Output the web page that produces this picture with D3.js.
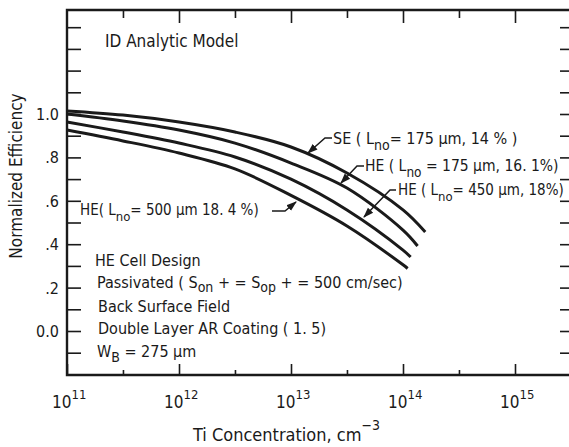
<!DOCTYPE html>
<html>
<head>
<meta charset="utf-8">
<script src="https://cdn.jsdelivr.net/npm/d3@7"></script>
<style>
  body { margin: 0; background: #fff; }
  svg { display: block; }
  text { font-family: "Liberation Sans Narrow", "DejaVu Sans Condensed", "Arial Narrow", sans-serif; fill: #1a1a1a; }
  .tick line { stroke: #1a1a1a; stroke-width: 1.6; }
</style>
</head>
<body>
<svg id="chart"></svg>
<script>
// Ti concentration (cm^-3) sampled at half decades
var concentrations = [1e11, 3.16e11, 1e12, 3.16e12, 1e13, 3.16e13, 1e14];
var endConcentration = [1.58e14, 1.35e14, 1.17e14, 1.1e14];

// normalized efficiency, one array per cell
var seL175 = [1.014, 0.995, 0.963, 0.917, 0.848, 0.728, 0.558, 0.456];
var heL175 = [1.000, 0.968, 0.926, 0.866, 0.774, 0.659, 0.465, 0.392];
var heL450 = [0.963, 0.917, 0.866, 0.802, 0.700, 0.558, 0.373, 0.341];
var heL500 = [0.926, 0.876, 0.820, 0.747, 0.625, 0.484, 0.305, 0.288];

var yLabelValues = [0, 0.2, 0.4, 0.6, 0.8, 1.0];
var yLabels = ["0.0", ".2", ".4", ".6", ".8", "1.0"];
var xDecades = [1e11, 1e12, 1e13, 1e14, 1e15];
var xExponents = ["11", "12", "13", "14", "15"];
var xHalf = [3.16e11, 3.16e12, 3.16e13, 3.16e14];
var yMinor = [-0.1, 0, 0.1, 0.2, 0.3, 0.4, 0.5, 0.6, 0.7, 0.8, 0.9, 1.0, 1.1, 1.2, 1.3, 1.4];

var width = 569, height = 447;
var frameL = 67, frameT = 10, frameB = 375, frameR = 569;

var svg = d3.select("#chart").attr("width", width).attr("height", height);

var x = d3.scaleLog().domain([1e11, 1e15]).range([67, 515]);
var y = d3.scaleLinear().domain([0, 1]).range([331, 114]);

function toPoints(vals, i) {
  var xs = concentrations.concat([endConcentration[i]]);
  return vals.map(function(v, j) { return [xs[j], v]; });
}

// ticks: left and right every 0.1, top and bottom on decades / half decades
function ticks(axis, tx, ty) {
  var g = svg.append("g").attr("transform", "translate(" + tx + "," + ty + ")").call(axis);
  g.select(".domain").remove();
  g.selectAll("text").remove();
  return g;
}
ticks(d3.axisRight(y).tickValues(yMinor).tickSize(14), frameL, 0);
ticks(d3.axisLeft(y).tickValues(yMinor).tickSize(9), frameR, 0);
ticks(d3.axisTop(x).tickValues(xDecades).tickSize(11), 0, frameB);
ticks(d3.axisTop(x).tickValues(xHalf).tickSize(5), 0, frameB);
ticks(d3.axisBottom(x).tickValues(xDecades.slice(1)).tickSize(13), 0, frameT);
ticks(d3.axisBottom(x).tickValues(xHalf).tickSize(8), 0, frameT);

// frame (right side is cut off in the scan)
svg.append("path")
  .attr("d", "M" + frameR + "," + frameT + "H" + frameL + "V" + frameB + "H" + frameR)
  .attr("fill", "none").attr("stroke", "#1a1a1a").attr("stroke-width", 2.4);

// y tick labels
svg.selectAll(".ylab").data(yLabelValues).enter().append("text")
  .attr("class", "ylab")
  .attr("x", 59).attr("y", function(d) { return y(d) + 6; })
  .attr("text-anchor", "end").style("font-size", "16px")
  .text(function(d, i) { return yLabels[i]; });

// x tick labels 10^n
var xl = svg.selectAll(".xlab").data(xDecades).enter().append("text")
  .attr("class", "xlab")
  .attr("x", function(d) { return x(d) - 15; }).attr("y", 408)
  .style("font-size", "17px");
xl.append("tspan").text("10");
xl.append("tspan").attr("dy", -9).style("font-size", "13px").text(function(d, i) { return xExponents[i]; });

// axis titles
var xt = svg.append("text").attr("x", 193).attr("y", 441).style("font-size", "18px");
xt.append("tspan").text("Ti Concentration,  cm");
xt.append("tspan").attr("dy", -11).style("font-size", "14px").text("\u22123");

svg.append("text")
  .attr("transform", "translate(22,176) rotate(-90)")
  .attr("text-anchor", "middle").style("font-size", "17px")
  .text("Normalized Efficiency");

// curves
var line = d3.line()
  .x(function(d) { return x(d[0]); })
  .y(function(d) { return y(d[1]); })
  .curve(d3.curveCatmullRom.alpha(0.5));

svg.append("g").selectAll("path")
  .data([seL175, heL175, heL450, heL500].map(toPoints))
  .enter().append("path")
  .attr("d", line)
  .attr("fill", "none").attr("stroke", "#1a1a1a").attr("stroke-width", 3);

// arrowheads
svg.append("defs").append("marker")
  .attr("id", "arrow").attr("viewBox", "0 0 10 10")
  .attr("refX", 9).attr("refY", 5)
  .attr("markerWidth", 7).attr("markerHeight", 7)
  .attr("orient", "auto-start-reverse")
  .append("path").attr("d", "M0,1.5L10,5L0,8.5Z").attr("fill", "#1a1a1a");

var leaders = [
  [[332, 138], [325, 138], [308, 153]],
  [[364, 166], [357, 166], [341, 183]],
  [[396, 190], [390, 190], [364, 217]],
  [[272, 211], [285, 211], [296, 202]]
];
svg.selectAll(".leader").data(leaders).enter().append("path")
  .attr("class", "leader")
  .attr("d", d3.line())
  .attr("fill", "none").attr("stroke", "#1a1a1a").attr("stroke-width", 1.5)
  .attr("marker-end", "url(#arrow)");

// text blocks with subscripts: [text, sub, text, sub, text ...]
function label(xp, yp, parts, size, drop) {
  size = size || 16;
  drop = drop || 6;
  var t = svg.append("text").attr("x", xp).attr("y", yp).style("font-size", size + "px");
  parts.forEach(function(p, i) {
    var s = t.append("tspan").text(p);
    if (i % 2 == 1) s.attr("dy", drop).style("font-size", (size - 2) + "px");
    else if (i > 0) s.attr("dy", -drop);
  });
  return t;
}

label(105, 47, ["ID Analytic Model"], 17);
label(333, 144, ["SE ( L", "no", "= 175 \u00b5m,  14 % )"]);
label(365, 171, ["HE ( L", "no", " = 175 \u00b5m, 16. 1%)"], 15.5);
label(398, 195, ["HE ( L", "no", "= 450 \u00b5m, 18%)"], 15);
label(80, 215, ["HE( L", "no", "= 500 \u00b5m 18. 4 %)"], 15);

label(95, 266, ["HE Cell Design"]);
label(97, 288, ["Passivated ( S", "on", " + = S", "op", " + = 500 cm/sec)"], 16, 4);
label(98, 312, ["Back Surface Field"]);
label(98, 334, ["Double Layer AR Coating ( 1. 5)"]);
label(97, 357, ["W", "B", " = 275 \u00b5m"], 16, 5);
</script>
</body>
</html>
